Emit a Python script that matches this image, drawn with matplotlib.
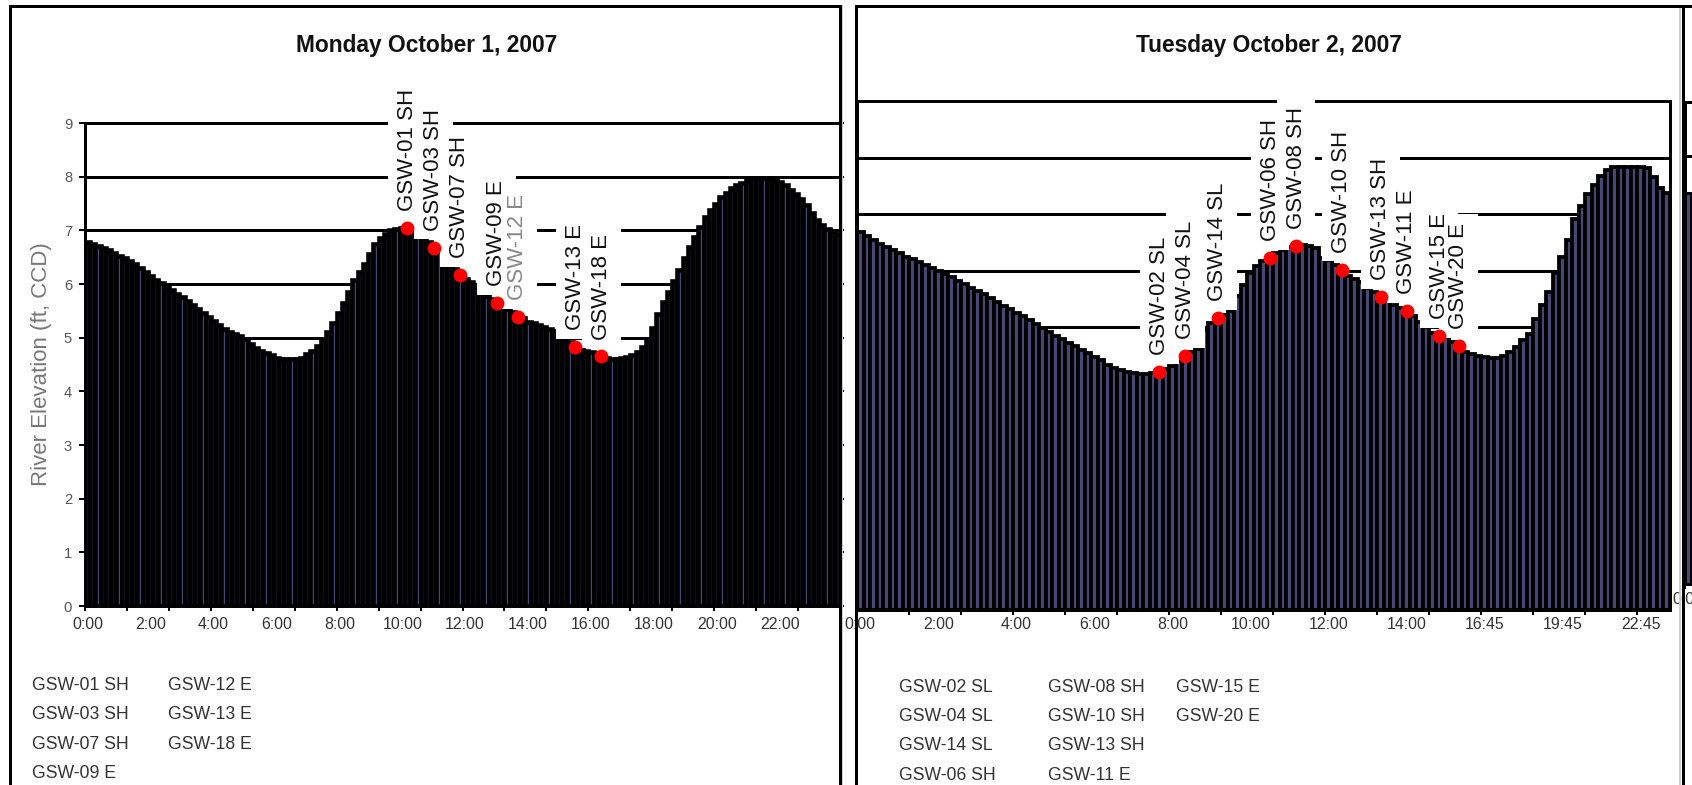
import matplotlib
matplotlib.use("Agg")
import matplotlib.pyplot as plt
from matplotlib import font_manager
from matplotlib.lines import Line2D
import numpy as np

W, H = 1692, 785
PT = 0.72  # points per pixel at 100 dpi

# Monday 1 Oct 2007 - river stage every 10 minutes (ft)
MON_LEVEL = [
    6.79, 6.75, 6.71, 6.67, 6.63, 6.58,
    6.53, 6.48, 6.43, 6.37, 6.30, 6.23,
    6.15, 6.08, 6.01, 5.95, 5.88, 5.82,
    5.76, 5.69, 5.61, 5.53, 5.46, 5.39,
    5.31, 5.24, 5.16, 5.11, 5.07, 5.03,
    4.98, 4.89, 4.81, 4.75, 4.71, 4.67,
    4.63, 4.61, 4.60, 4.60, 4.61, 4.63,
    4.69, 4.76, 4.85, 4.96, 5.10, 5.28,
    5.46, 5.65, 5.86, 6.07, 6.23, 6.38,
    6.55, 6.74, 6.85, 6.93, 7.00, 7.03,
    7.05, 7.04, 7.02, 6.96, 6.88, 6.78,
    6.68, 6.62, 6.52, 6.40, 6.28, 6.17,
    6.10, 6.03, 5.95, 5.86, 5.78, 5.72,
    5.65, 5.60, 5.53, 5.47, 5.39, 5.36,
    5.30, 5.27, 5.24, 5.20, 5.16, 5.12,
    5.08, 5.01, 4.92, 4.83, 4.79, 4.76,
    4.73, 4.70, 4.65, 4.62, 4.61, 4.61,
    4.62, 4.64, 4.68, 4.74, 4.83, 4.95,
    5.18, 5.44, 5.66, 5.85, 6.05, 6.27,
    6.48, 6.69, 6.88, 7.06, 7.25, 7.37,
    7.50, 7.62, 7.70, 7.78, 7.84, 7.89,
    7.93, 7.95, 7.97, 7.97, 7.96, 7.94,
    7.90, 7.84, 7.76, 7.67, 7.58, 7.47,
    7.33, 7.20, 7.10, 7.03, 6.98, 6.94,
]
MON_TICKS = ["0:00", "2:00", "4:00", "6:00", "8:00", "10:00",
             "12:00", "14:00", "16:00", "18:00", "20:00", "22:00"]
MON_SAMPLES = ["GSW-01 SH", "GSW-03 SH", "GSW-07 SH", "GSW-09 E",
               "GSW-12 E", "GSW-13 E", "GSW-18 E"]
MON_SAMPLE_BAR = [61, 66, 71, 78, 82, 93, 98]
MON_LEGEND = [["GSW-01 SH", "GSW-03 SH", "GSW-07 SH", "GSW-09 E"],
              ["GSW-12 E", "GSW-13 E", "GSW-18 E"]]

# Tuesday 2 Oct 2007 - 10 min readings, 15 min after 14:30
TUE_LEVEL = [
    6.68, 6.61, 6.54, 6.48, 6.42, 6.36, 6.31, 6.25, 6.20, 6.15,
    6.10, 6.04, 5.99, 5.94, 5.89, 5.82, 5.76, 5.70, 5.64, 5.58,
    5.52, 5.45, 5.38, 5.32, 5.25, 5.19, 5.12, 5.05, 4.98, 4.91,
    4.85, 4.79, 4.72, 4.66, 4.60, 4.54, 4.48, 4.42, 4.34, 4.28,
    4.24, 4.21, 4.19, 4.18, 4.18, 4.19, 4.21, 4.26, 4.32, 4.40,
    4.49, 4.56, 4.62, 4.95, 5.08, 5.17, 5.22, 5.28, 5.55, 5.75,
    5.95, 6.08, 6.17, 6.23, 6.32, 6.37, 6.41, 6.44, 6.45, 6.44,
    6.40, 6.22, 6.18, 6.10, 6.02, 5.91, 5.85, 5.80, 5.70, 5.62,
    5.54, 5.47, 5.40, 5.34, 5.28, 5.20, 5.10, 5.00, 4.90, 4.84,
    4.83, 4.74, 4.67, 4.56, 4.53, 4.50, 4.48, 4.46, 4.45, 4.49,
    4.56, 4.65, 4.78, 4.88, 5.15, 5.40, 5.62, 5.95, 6.25, 6.55,
    6.92, 7.15, 7.35, 7.52, 7.68, 7.78, 7.83, 7.84, 7.84, 7.84,
    7.83, 7.82, 7.65, 7.47, 7.38,
]
TUE_TICKS = ["0:00", "2:00", "4:00", "6:00", "8:00", "10:00",
             "12:00", "14:00", "16:45", "19:45", "22:45"]
TUE_SAMPLES = ["GSW-02 SL", "GSW-04 SL", "GSW-14 SL", "GSW-06 SH",
               "GSW-08 SH", "GSW-10 SH", "GSW-13 SH", "GSW-11 E",
               "GSW-15 E", "GSW-20 E"]
TUE_SAMPLE_BAR = [46, 50, 55, 63, 67, 74, 80, 84, 89, 92]
TUE_LEGEND = [["GSW-02 SL", "GSW-04 SL", "GSW-14 SL", "GSW-06 SH"],
              ["GSW-08 SH", "GSW-10 SH", "GSW-13 SH", "GSW-11 E"],
              ["GSW-15 E", "GSW-20 E"]]

# next day, only its first readings fit on the page
WED_LEVEL = [7.31, 7.30]
WED_TICKS = ["0:00"]

SLATE = "#464677"

installed = {f.name for f in font_manager.fontManager.ttflist}
if "Liberation Sans Narrow" in installed:
    NARROW, k = "Liberation Sans Narrow", 1.0
else:
    NARROW, k = "Liberation Sans", 0.82
REGULAR = "Liberation Sans"

fig = plt.figure(figsize=(W / 100, H / 100), dpi=100)


def px_axes(left, top, right, bottom):
    return fig.add_axes([left / W, 1 - bottom / H, (right - left) / W, (bottom - top) / H])


def fig_line(xs, ys, lw_px, color="black", z=20):
    fig.add_artist(Line2D([x / W for x in xs], [1 - y / H for y in ys],
                          transform=fig.transFigure, lw=lw_px * PT, color=color,
                          zorder=z, solid_capstyle="projecting"))


def fig_text(x, y, s, **kw):
    fig.text(x / W, 1 - y / H, s, **kw)


def day_axes(ax, levels, ticks, edge_px, label_pad):
    x = np.arange(len(levels))
    ax.bar(x, levels, width=1.0, color=SLATE, edgecolor="black",
           linewidth=edge_px * PT, zorder=1)
    ax.set_xlim(-0.5, len(levels) - 0.5)
    ax.set_ylim(0, 9)
    ax.set_yticks(range(10))
    ax.yaxis.grid(True, color="black", lw=3 * PT)
    ax.set_axisbelow(True)
    ax.set_xticks(np.arange(len(ticks)) * 12)
    ax.set_xticklabels(ticks, family=NARROW, fontsize=14 * k, color="#333333")
    ax.set_xticks(np.arange(-0.5, len(levels), 8), minor=True)
    ax.tick_params(axis="x", which="major", length=0, pad=label_pad)
    ax.tick_params(axis="x", which="minor", length=5 * PT, width=2 * PT,
                   direction="out", color="black")
    for side in ["top", "bottom", "left", "right"]:
        ax.spines[side].set_linewidth(3 * PT)
        ax.spines[side].set_color("black")
    ax.patch.set_alpha(0)


def sample_marks(ax, levels, bars, names, grey=()):
    ax.plot(bars, [levels[i] for i in bars], "o", color="#ff0000", ms=10,
            mec="none", zorder=6, clip_on=False)
    common = dict(xytext=(0, 12.2), textcoords="offset points", rotation=90,
                  ha="center", va="bottom", fontsize=16, family=REGULAR,
                  annotation_clip=False)
    # white backing first, so a neighbour's box never hides a label
    for i, name in zip(bars, names):
        ax.annotate(name, (i, levels[i]), color=(0, 0, 0, 0), zorder=4,
                    bbox=dict(boxstyle="square,pad=0.4", fc="white", ec="none"),
                    **common)
    for i, name in zip(bars, names):
        ax.annotate(name, (i, levels[i]), zorder=5,
                    color="#888888" if name in grey else "#111111", **common)


# Monday
ax1 = px_axes(85, 123, 840, 606)
day_axes(ax1, MON_LEVEL, MON_TICKS, 4.6, 8)
ax1.tick_params(axis="y", left=True, right=True, length=6 * PT, width=2 * PT,
                direction="out", pad=5, labelsize=13 * k, labelcolor="#555555")
for lab in ax1.get_yticklabels():
    lab.set_family(NARROW)
for t in ax1.yaxis.get_major_ticks():
    t.tick2line.set_markersize(4 * PT)
sample_marks(ax1, MON_LEVEL, MON_SAMPLE_BAR, MON_SAMPLES, grey=("GSW-12 E",))

fig_text(42, 364, "River Elevation (ft, CCD)", rotation=90, ha="center", va="center",
         fontsize=16, family=REGULAR, color="#777777")

# Tuesday
ax2 = px_axes(857, 101, 1670, 610)
day_axes(ax2, TUE_LEVEL, TUE_TICKS, 3.8, 5)
ax2.tick_params(axis="y", left=False, labelleft=False)
sample_marks(ax2, TUE_LEVEL, TUE_SAMPLE_BAR, TUE_SAMPLES)

# Wednesday, cut by the page edge
ax3 = px_axes(1685, 102, 1685 + 812, 584)
day_axes(ax3, WED_LEVEL + [0] * 123, WED_TICKS, 3.0, 6)
ax3.tick_params(axis="y", left=True, length=4 * PT, width=2 * PT, direction="in",
                labelleft=False)

# titles
fig_text(427, 52, "Monday October 1, 2007", ha="center", va="baseline",
         fontsize=20 * k, family=NARROW, fontweight="bold", color="#111111")
fig_text(1269, 52, "Tuesday October 2, 2007", ha="center", va="baseline",
         fontsize=20 * k, family=NARROW, fontweight="bold", color="#111111")

# sample lists under each chart
rows = [690, 719, 749, 778]
for col, x in zip(MON_LEGEND, [32, 168]):
    for name, y in zip(col, rows):
        fig_text(x, y, name, va="baseline", fontsize=15.5 * k, family=NARROW, color="#333333")
rows = [692, 721, 750, 780]
for col, x in zip(TUE_LEGEND, [899, 1048, 1176]):
    for name, y in zip(col, rows):
        fig_text(x, y, name, va="baseline", fontsize=15.5 * k, family=NARROW, color="#333333")

# page frames
fig_line([9.5, 9.5], [5.5, 800], 3)
fig_line([9.5, 839.5], [5.5, 5.5], 3)
fig_line([839.5, 839.5], [5.5, 800], 3)
fig_line([842, 842], [5.5, 800], 2, color="#cccccc", z=19)
fig_line([856, 856], [5.5, 800], 3)
fig_line([856, 1700], [5.5, 5.5], 3)
fig_line([1679.5, 1679.5], [7, 800], 2, color="#cccccc", z=19)
fig_line([1683, 1683], [5.5, 800], 3)

fig.savefig("out.png", dpi=100)
